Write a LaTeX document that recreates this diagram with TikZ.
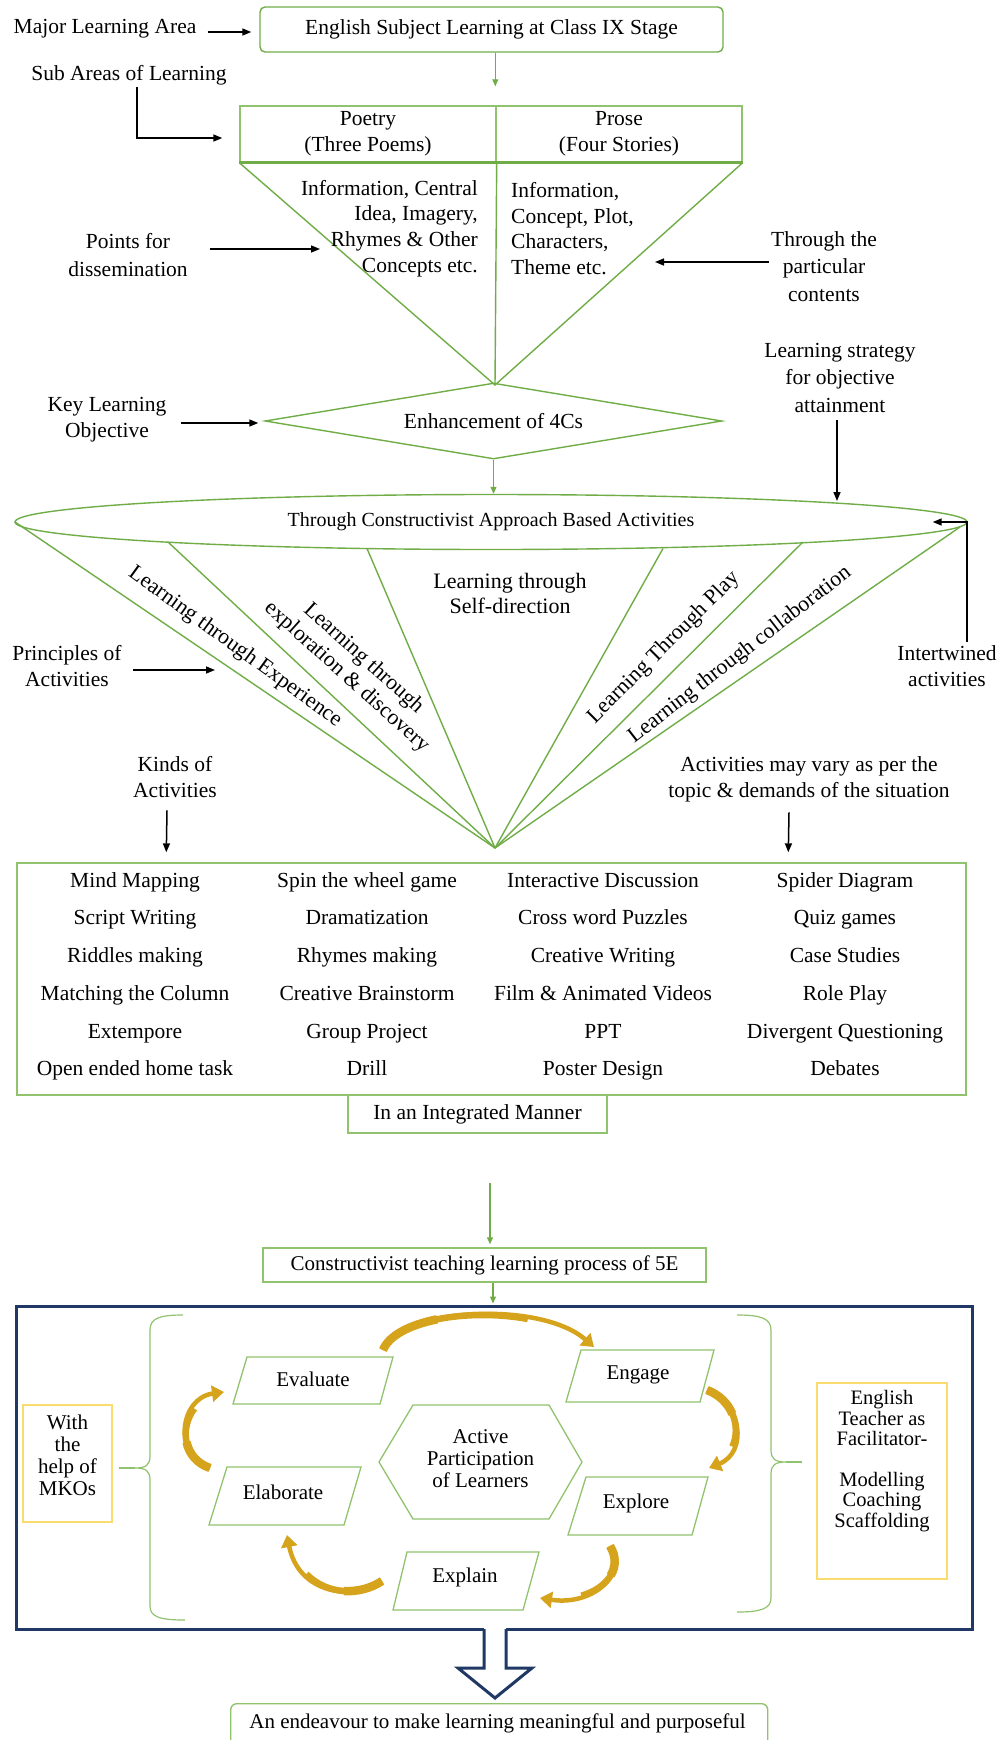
\documentclass[tikz,border=0pt]{standalone}
\usepackage{fontspec}
\setmainfont{Liberation Serif}
\usetikzlibrary{arrows.meta,shapes.geometric,calc}
\definecolor{gline}{RGB}{112,173,71}
\definecolor{gbox}{RGB}{145,195,110}
\definecolor{navy}{RGB}{31,56,100}
\definecolor{gold}{RGB}{214,163,28}
\definecolor{ylw}{RGB}{250,220,110}
\newcommand\fsA{\fontsize{21.5}{26}\selectfont}
\newcommand\fsC{\fontsize{21.5}{25.7}\selectfont}
\newcommand\fsT{\fontsize{21.5}{27.5}\selectfont}
\newcommand\fsF{\fontsize{22}{25}\selectfont}
\newcommand\fsE{\fontsize{20}{24}\selectfont}
\newcommand\fsB{\fontsize{21}{22}\selectfont}
\newcommand\fsD{\fontsize{20.5}{20.4}\selectfont}
% tapered gold curved arrow: #1 start, #2 ctrl1, #3 ctrl2, #4 end
\newcommand\goldcurve[4]{%
  \coordinate (ga) at (#1); \coordinate (gb) at (#2);
  \coordinate (gc) at (#3); \coordinate (gd) at (#4);
  \draw[goldarr] (ga) .. controls (gb) and (gc) .. (gd);
  \draw[gold, line width=6.5pt] (ga) .. controls ($0.3*(ga)+0.7*(gb)$) and ($0.09*(ga)+0.42*(gb)+0.49*(gc)$) .. ($0.027*(ga)+0.189*(gb)+0.441*(gc)+0.343*(gd)$);
  \draw[gold, line width=8.5pt] (ga) .. controls ($0.65*(ga)+0.35*(gb)$) and ($0.4225*(ga)+0.455*(gb)+0.1225*(gc)$) .. ($0.274625*(ga)+0.443625*(gb)+0.238875*(gc)+0.042875*(gd)$);
}
\begin{document}
\begin{tikzpicture}[x=1pt,y=-1pt,
  lab/.style={font=\fsA, align=center, inner sep=0pt},
  item/.style={font=\fsA, inner sep=0pt, text height=15pt, text depth=5pt},
  gbx/.style={draw=gbox, line width=1.4pt, inner sep=0pt},
  pbx/.style={draw=gbox, line width=1.3pt},
  blk/.style={draw=black, line width=1.5pt, -{Triangle[length=9pt,width=7pt]}},
  garr/.style={draw=gline, line width=1.2pt, -{Triangle[length=7pt,width=6pt]}},
  gl/.style={draw=gline, line width=1.4pt},
  goldarr/.style={draw=gold, line width=4.5pt, -{Triangle[length=12pt,width=16pt]}},
  gdia/.style={draw=gline, line width=1.4pt, diamond, aspect=6, minimum width=457pt, minimum height=76pt, inner sep=0pt, font=\fsA}
]
\fill[white] (0,0) rectangle (1002,1740);
\useasboundingbox (0,0) rectangle (1002,1740);
\clip (0,0) rectangle (1002,1740);

% ---------- top ----------
\node[lab] (mla) at (105,29) {Major Learning Area};
\node[gbx, draw=gline, rounded corners=5pt, minimum width=463pt, minimum height=45pt, font=\fsA] (top) at (491.5,29.5) {English Subject Learning at Class IX Stage};
\draw[blk] ($(mla.east)+(11,3)$) -- ($(top.west)+(-8,2.5)$);

\node[lab] (sub) at (129,75) {Sub Areas of Learning};
\node[gbx, minimum width=256pt, minimum height=56pt, font=\fsA, align=center] (poetry) at (368,134) {Poetry\\(Three Poems)};
\node[gbx, minimum width=246pt, minimum height=56pt, font=\fsA, align=center] (prose) at (619,134) {Prose\\(Four Stories)};
\draw[garr] (top.south -| prose.north west) -- ($(prose.north west)+(0,-19)$);
\draw[blk] ($(sub.south)+(8,2)$) |- ($(poetry.west)+(-17,4)$);

\coordinate (apex) at (495,385);
\draw[gl] (poetry.south west) -- (apex) -- (prose.south east);
\draw[gl] (poetry.south east) -- (apex);
\draw[gline, line width=3pt] (poetry.south west) -- (prose.south east);

\node[lab, align=right, anchor=east, font=\fsC] (ppts) at (478,228.5) {Information, Central\\Idea, Imagery,\\Rhymes \& Other\\Concepts etc.};
\node[lab, align=left, anchor=west, font=\fsC] (rpts) at (511,228.5) {Information,\\Concept, Plot,\\Characters,\\Theme etc.};

\node[lab, font=\fsT] (pfd) at (128,255) {Points for\\dissemination};
\coordinate (pfdtip) at (320,249);
\draw[blk] ($(pfd.east)+(22,-6)$) -- (pfdtip);

\node[lab, font=\fsT] (tpc) at (824,266.5) {Through the\\particular\\contents};
\coordinate (tpctip) at (655,262);
\draw[blk] ($(tpc.west)+(-2,-4.5)$) -- (tpctip);

\node[lab, font=\fsT] (lsoa) at (840,377.5) {Learning strategy\\for objective\\attainment};
\node[gdia] (dia) at (493.5,421) {Enhancement of 4Cs};
\node[lab] (klo) at (107,420) {Key Learning\\Objective};
\draw[blk] ($(klo.east)+(14,3)$) -- ($(dia.west)+(-6,2)$);

% ---------- ellipse & fan ----------
\node[draw=gline, line width=1.4pt, ellipse, minimum width=952pt, minimum height=55pt, inner sep=0pt, font=\fsE] (ell) at (491,522) {Through Constructivist Approach Based Activities};
\draw[garr] (dia.south) -- (dia.south |- ell.north);
\coordinate (lsoatip) at (837,501);
\draw[blk] ($(lsoa.south)+(-3,8)$) -- (lsoatip);

\coordinate (fan) at (495,848);
\coordinate (f1) at (15,522);
\coordinate (f2) at (168,542);
\coordinate (f3) at (367,548.5);
\coordinate (f4) at (663,548.5);
\coordinate (f5) at (803,542);
\coordinate (f6) at (960,527);
\foreach \p in {f1,f2,f3,f4,f5,f6} \draw[gl] (\p) -- (fan);

\node[lab, font=\fsF, rotate=-36] (lte) at (235,647) {Learning through Experience};
\node[lab, font=\fsF, rotate=-42] (led) at (355,668) {Learning through\\exploration \& discovery};
\node[lab, font=\fsF] (lsd) at (510,593) {Learning through\\Self-direction};
\node[lab, font=\fsF, rotate=45] (ltp) at (664,648) {Learning Through Play};
\node[lab, font=\fsF, rotate=37.7] (ltc) at (740,655) {Learning through collaboration};

\node[lab] (poa) at (67,666) {Principles of\\Activities};
\coordinate (poatip) at (215,670);
\draw[blk] ($(poa.east)+(11,4)$) -- (poatip);

\node[lab] (ia) at (947,666.5) {Intertwined\\activities};
\draw[blk] ($(ia.north)+(20,-4)$) |- ($(ell.east)+(-35,0)$);

\node[lab] (koa) at (175,777.5) {Kinds of\\Activities};
\node[lab] (amv) at (809,779.5) {Activities may vary as per the\\topic \& demands of the situation};

% ---------- activities box ----------
\node[gbx, minimum width=949pt, minimum height=232pt] (act) at (491.5,979) {};
\draw[blk] ($(koa.south)+(-8,12)$) -- ($(act.north west)+(150,-10)$);
\draw[blk] ($(amv.south)+(-20,10)$) -- ($(act.north west)+(772,-10)$);

\foreach \a/\b/\c/\d/\yy [count=\r] in {
  Mind Mapping/Spin the wheel game/Interactive Discussion/Spider Diagram/882,
  Script Writing/Dramatization/Cross word Puzzles/Quiz games/919,
  Riddles making/Rhymes making/Creative Writing/Case Studies/957,
  Matching the Column/Creative Brainstorm/Film \& Animated Videos/Role Play/995,
  Extempore/Group Project/PPT/Divergent Questioning/1033,
  Open ended home task/Drill/Poster Design/Debates/1070}{
  \node[item] (it\r a) at (135,\yy) {\a};
  \node[item] (it\r b) at (367,\yy) {\b};
  \node[item] (it\r c) at (603,\yy) {\c};
  \node[item] (it\r d) at (845,\yy) {\d};
}

\node[gbx, minimum width=259pt, minimum height=38pt, font=\fsA] (iim) at (477.5,1114) {In an Integrated Manner};

% ---------- 5E ----------
\node[gbx, minimum width=443pt, minimum height=34pt, font=\fsB] (five) at (484.5,1265) {Constructivist teaching learning process of 5E};
\draw[garr] ($(iim.south)+(12.5,49)$) -- ($(five.north)+(5.5,-3)$);
\node[draw=navy, line width=3pt, minimum width=956pt, minimum height=323pt, inner sep=0pt] (blue) at (494,1467.5) {};
\draw[garr] ($(five.south)+(8.5,0)$) -- ($(five.south |- blue.north)+(8.5,-1)$);

% braces
\coordinate (lbtip) at (135,1468);
\draw[gbox, line width=1.2pt] (183,1315) .. controls (160,1315) and (150,1318) .. (150,1330) -- (150,1456) .. controls (150,1465) and (146,1468) .. (lbtip) .. controls (146,1468) and (150,1471) .. (150,1480) -- (150,1606) .. controls (150,1617) and (160,1620) .. (185,1620);
\coordinate (rbtip) at (786,1462);
\draw[gbox, line width=1.2pt] (737,1315) .. controls (760,1315) and (771,1318) .. (771,1330) -- (771,1450) .. controls (771,1459) and (775,1462) .. (rbtip) .. controls (775,1462) and (771,1465) .. (771,1474) -- (771,1598) .. controls (771,1609) and (760,1612) .. (737,1612);

\node[draw=ylw, line width=1.5pt, minimum width=89pt, minimum height=117pt, inner sep=0pt] (mko) at (67.5,1463.5) {};
\node[lab, font=\fsB] (mkot) at (67.5,1455) {With\\the\\help of\\MKOs};
\draw[gbox, line width=1.2pt] ($(mko.east)+(6,4.5)$) -- (lbtip);

\node[draw=ylw, line width=1.5pt, minimum width=130pt, minimum height=196pt, inner sep=0pt] (tch) at (882,1481) {};
\node[lab, font=\fsD] (tcht) at (882,1461) {English\\Teacher as\\Facilitator-\\[20.4pt]Modelling\\Coaching\\Scaffolding};
\draw[gbox, line width=1.2pt] (rbtip) -- ($(tch.west)+(-14,-19)$);

% hexagon
\node[lab, font=\fsB] (apl) at (480.5,1459) {Active\\Participation\\of Learners};
\draw[pbx] (379,1462) -- (413,1405) -- (549,1405) -- (582,1462) -- (549,1519) -- (413,1519) -- cycle;

% parallelograms
\node[lab, font=\fsB] (eva) at (313,1379) {Evaluate};
\draw[pbx] (233,1404) -- (247,1357) -- (393,1357) -- (380,1404) -- cycle;
\node[lab, font=\fsB] (eng) at (638,1375) {Engage};
\draw[pbx] (566,1402) -- (581,1350) -- (714,1350) -- (700,1402) -- cycle;
\node[lab, font=\fsB] (ela) at (283,1492) {Elaborate};
\draw[pbx] (209,1525) -- (227,1467) -- (361,1467) -- (344,1525) -- cycle;
\node[lab, font=\fsB] (exo) at (636,1503) {Explore};
\draw[pbx] (568,1535) -- (586,1477) -- (708,1477) -- (692,1535) -- cycle;
\node[lab, font=\fsB] (exa) at (465,1577) {Explain};
\draw[pbx] (393,1610) -- (407,1552) -- (539,1552) -- (523,1610) -- cycle;

% gold cycle arrows
\goldcurve{383,1350}{400,1308}{540,1300}{594,1347}
\goldcurve{707,1390}{742,1403}{748,1452}{709,1468}
\goldcurve{610,1546}{628,1575}{592,1606}{540,1598}
\goldcurve{382,1581}{350,1602}{298,1592}{287,1535}
\goldcurve{210,1468}{172,1455}{180,1398}{224,1392}

% big arrow
\fill[white] (484,1625) -- (484,1668) -- (458,1668) -- (495,1698) -- (532,1668) -- (506,1668) -- (506,1625) -- cycle;
\draw[navy, line width=3pt, line join=miter] (484,1629) -- (484,1668) -- (458,1668) -- (495,1698) -- (532,1668) -- (506,1668) -- (506,1629);

% final box
\node[gbx, rounded corners=6pt, minimum width=537pt, minimum height=48pt, anchor=north west] (endv) at (230,1703) {};
\node[lab, font=\fsB] (endt) at (497.5,1723.5) {An endeavour to make learning meaningful and purposeful};
\end{tikzpicture}
\end{document}
